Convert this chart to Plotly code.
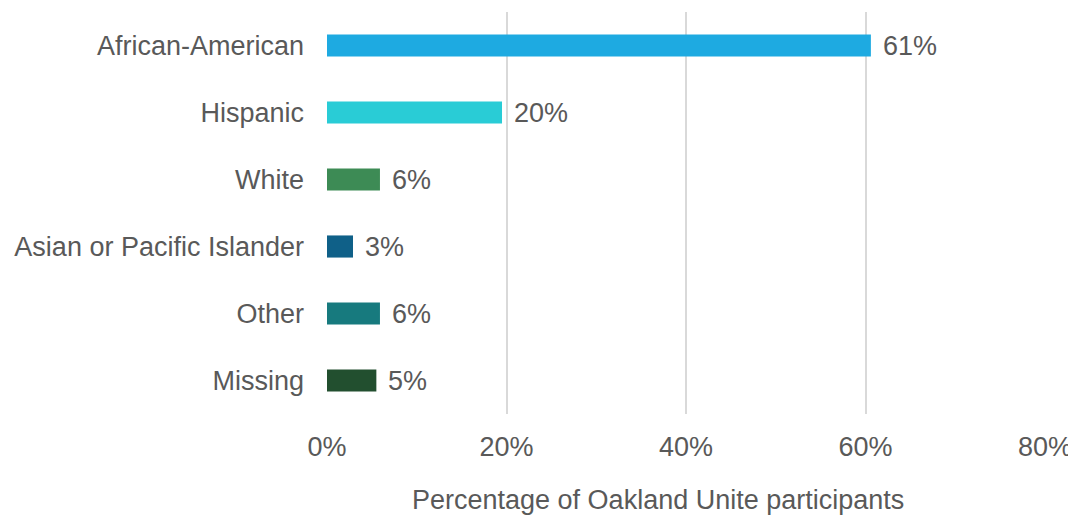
import plotly.graph_objects as go

categories = ["African-American", "Hispanic", "White", "Asian or Pacific Islander", "Other", "Missing"]
values = [60.6, 19.5, 5.9, 2.9, 5.9, 5.5]
labels = ["61%", "20%", "6%", "3%", "6%", "5%"]
colors = ["#1EAAE1", "#29CCD6", "#3D8B55", "#0F6088", "#177A7E", "#224F2F"]
tick_vals = [0, 20, 40, 60, 80]
tick_text = ["0%", "20%", "40%", "60%", "80%"]
x_title = "Percentage of Oakland Unite participants"

FONT = "Liberation Sans, Arial, sans-serif"
GREY = "#595959"
FS = 27

fig = go.Figure(go.Bar(
    x=values, y=categories, orientation="h",
    marker=dict(color=colors, line=dict(width=0)),
    width=0.33, hoverinfo="skip",
))

for v, c, t in zip(values, categories, labels):
    fig.add_annotation(x=v, y=c, text=t, showarrow=False, xanchor="left",
                       xshift=10, font=dict(size=FS, color=GREY, family=FONT))

# axis title (slightly left of the plot centre, as in the reference)
fig.add_annotation(x=0.461, y=0, xref="paper", yref="paper", text=x_title,
                   showarrow=False, xanchor="center", yanchor="middle",
                   yshift=-86, font=dict(size=FS, color=GREY, family=FONT))

# page body has an 8px default margin, so the figure is sized/offset to compensate
fig.update_layout(
    width=1068, height=510,
    margin=dict(l=319, r=31, t=4, b=104),
    paper_bgcolor="white", plot_bgcolor="white",
    showlegend=False,
    font=dict(family=FONT, size=FS, color=GREY),
    xaxis=dict(range=[0, 80], tickvals=tick_vals, ticktext=tick_text,
               showgrid=True, gridcolor="#D9D9D9", gridwidth=1.5,
               zeroline=False, showline=False, ticks="",
               ticklabelstandoff=14, automargin=False,
               tickfont=dict(size=FS, color=GREY)),
    yaxis=dict(autorange="reversed", showgrid=False, zeroline=False,
               showline=False, ticks="", ticklabelstandoff=22, automargin=False,
               tickfont=dict(size=FS, color=GREY)),
)

fig.write_html("out.html")
